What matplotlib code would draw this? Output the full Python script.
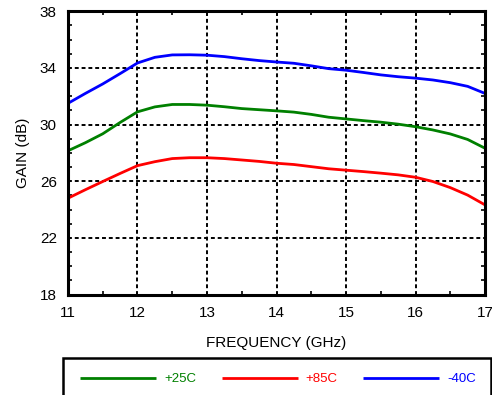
import numpy as np
import matplotlib.pyplot as plt
from matplotlib.patches import Rectangle

plt.rcParams['font.family'] = ['Liberation Sans', 'DejaVu Sans']

# frequency (GHz)
freq = [11, 11.25, 11.5, 11.75, 12, 12.25, 12.5, 12.75, 13, 13.25, 13.5, 13.75, 14,
        14.25, 14.5, 14.75, 15, 15.25, 15.5, 15.75, 16, 16.25, 16.5, 16.75, 17]

# gain (dB) per temperature
gain_25c = [28.15, 28.72, 29.35, 30.15, 30.9, 31.25, 31.42, 31.42, 31.37, 31.26, 31.13, 31.05, 30.97,
            30.88, 30.72, 30.52, 30.4, 30.28, 30.17, 30.03, 29.85, 29.62, 29.34, 28.95, 28.33]
gain_85c = [24.8, 25.4, 25.98, 26.55, 27.1, 27.38, 27.6, 27.66, 27.66, 27.6, 27.5, 27.4, 27.27,
            27.18, 27.03, 26.88, 26.78, 26.68, 26.57, 26.45, 26.28, 25.98, 25.55, 25.02, 24.33]
gain_m40c = [31.5, 32.2, 32.87, 33.6, 34.35, 34.75, 34.92, 34.93, 34.9, 34.8, 34.65, 34.52, 34.42,
             34.33, 34.15, 33.95, 33.84, 33.68, 33.51, 33.38, 33.28, 33.15, 32.96, 32.7, 32.2]

labels = ['+25C', '+85C', '-40C']
colors = ['#008000', '#ff0000', '#0000ff']

fig = plt.figure(figsize=(4.92, 3.95), dpi=100)
ax = fig.add_axes([0.1382, 0.2544, 0.8476, 0.717])

for g, lab, c in zip([gain_25c, gain_85c, gain_m40c], labels, colors):
    ax.plot(freq, g, color=c, lw=2.0, label=lab, solid_capstyle='butt', solid_joinstyle='round')

ax.set_xlim(11, 17)
ax.set_ylim(18, 38)
ax.set_xticks(np.arange(11, 17.01, 1))
ax.set_xticks(np.arange(11.5, 17, 1), minor=True)
ax.set_yticks(np.arange(18, 38.01, 4))
ax.set_yticks(np.arange(18, 38.01, 1), minor=True)

ax.grid(True, which='major', color='black', lw=1.4, linestyle=(0, (2, 1.5)))
ax.tick_params(which='both', direction='in', top=True, right=True, labelsize=11, width=1.2)
ax.tick_params(which='major', length=0, pad=8)
ax.tick_params(which='minor', length=3)

for s in ax.spines.values():
    s.set_linewidth(2.2)

ax.set_xlabel('FREQUENCY (GHz)', fontsize=11, labelpad=12)
ax.set_ylabel('GAIN (dB)', fontsize=11, labelpad=7)

# legend box along the bottom
fig.patches.append(Rectangle((63 / 492, -0.05), (491 - 63) / 492, 1 - 358 / 395 + 0.05,
                             transform=fig.transFigure, fill=False, ec='black', lw=1.8))
handles, labs = ax.get_legend_handles_labels()
fig.legend(handles, labs, loc='center', bbox_to_anchor=(278 / 492, 1 - 379 / 395),
           ncol=3, frameon=False, fontsize=9.5, handlelength=5.75, handletextpad=0.6,
           columnspacing=1.95, labelcolor='linecolor')

fig.savefig('out.png', dpi=100)
